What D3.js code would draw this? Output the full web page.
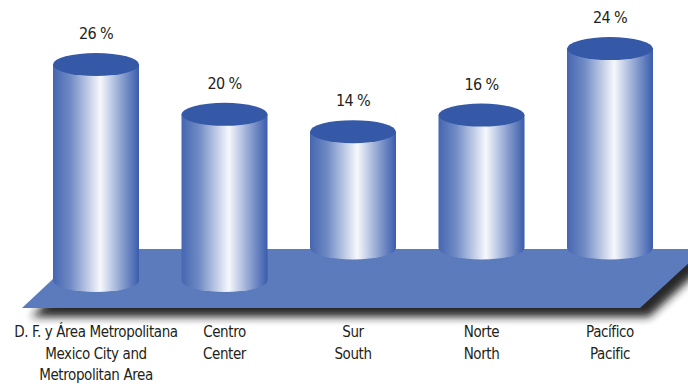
<!DOCTYPE html>
<html>
<head>
<meta charset="utf-8">
<script src="https://cdn.jsdelivr.net/npm/d3@7"></script>
<style>
  html, body { margin: 0; padding: 0; background: #ffffff; }
  svg { display: block; }
  text { font-family: "Liberation Sans Narrow", "DejaVu Sans Condensed", "Roboto", sans-serif; fill: #231f20; }
</style>
</head>
<body>
<svg id="chart" width="688" height="386"></svg>
<script>
// Regional distribution (percent)
const regionsEs = ["D. F. y Área Metropolitana", "Centro", "Sur", "Norte", "Pacífico"];
const regionsEn = [["Mexico City and", "Metropolitan Area"], ["Center"], ["South"], ["North"], ["Pacific"]];
const shares = [26, 20, 14, 16, 24];
// Cylinders stand in two rows on the floor
const rows = ["front", "front", "back", "back", "back"];

const svg = d3.select("#chart");

const x = d3.scalePoint().domain(regionsEs).range([96, 610]);
const h = d3.scaleLinear().domain([0, 26]).range([0, 216]);
const baseY = d3.scaleOrdinal().domain(["front", "back"]).range([280.5, 248]);
const rx = 43, ry = 11.5;

const defs = svg.append("defs");

const grad = defs.append("linearGradient").attr("id", "cylBody")
  .attr("x1", 0).attr("x2", 1).attr("y1", 0).attr("y2", 0);
[[0, "#4566b0"], [0.2, "#6f8ac4"], [0.55, "#f6f8fc"], [0.8, "#8ba0cf"], [1, "#3a5cac"]]
  .forEach(([o, c]) => grad.append("stop").attr("offset", o).attr("stop-color", c));

const blur = defs.append("filter").attr("id", "shadowBlur")
  .attr("x", "-10%").attr("y", "-40%").attr("width", "120%").attr("height", "180%");
blur.append("feGaussianBlur").attr("stdDeviation", 4.5);

// Floor with its cast shadow
const floorPts = [[22, 308], [640, 308], [704, 249], [85, 249]];
const line = d3.line();
svg.append("path")
  .attr("d", line(floorPts.map(([a, b]) => [a + 9, b + 9])) + "Z")
  .attr("fill", "#1e1e1e")
  .attr("opacity", 0.95)
  .attr("filter", "url(#shadowBlur)");
svg.append("path")
  .attr("d", line(floorPts) + "Z")
  .attr("fill", "#5b7bbc");

const data = regionsEs.map((r, i) => ({ es: r, en: regionsEn[i], v: shares[i], row: rows[i] }));

// Back row first so the front row overlaps it
const order = data.slice().sort((a, b) => (a.row === "back" ? 0 : 1) - (b.row === "back" ? 0 : 1));

const cyl = svg.selectAll("g.cyl").data(order).join("g").attr("class", "cyl");

cyl.append("path")
  .attr("fill", "url(#cylBody)")
  .attr("d", d => {
    const cx = x(d.es), b = baseY(d.row), t = b - h(d.v);
    return `M${cx - rx},${t} L${cx - rx},${b} A${rx},${ry} 0 0 0 ${cx + rx},${b} L${cx + rx},${t} Z`;
  });

cyl.append("ellipse")
  .attr("cx", d => x(d.es))
  .attr("cy", d => baseY(d.row) - h(d.v))
  .attr("rx", rx).attr("ry", ry)
  .attr("fill", "#3559a7");

cyl.append("text")
  .attr("x", d => x(d.es))
  .attr("y", d => baseY(d.row) - h(d.v) - ry - 14)
  .attr("text-anchor", "middle")
  .attr("font-size", 16)
  .attr("letter-spacing", -0.6)
  .text(d => d.v + " %");

// Category labels (Spanish / English)
const lab = svg.selectAll("text.cat").data(data).join("text")
  .attr("class", "cat")
  .attr("text-anchor", "middle")
  .attr("font-size", 15)
  .attr("letter-spacing", -0.4);
lab.each(function (d) {
  const t = d3.select(this);
  [d.es].concat(d.en).forEach((s, k) => {
    t.append("tspan").attr("x", x(d.es)).attr("y", 337 + k * 21.5).text(s);
  });
});
</script>
</body>
</html>
